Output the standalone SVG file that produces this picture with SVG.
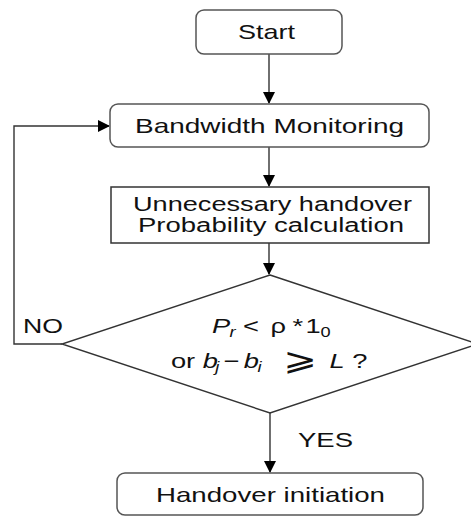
<svg xmlns="http://www.w3.org/2000/svg" width="471" height="516" viewBox="0 0 471 516">
<style>
.box{fill:#fff;stroke:#555;stroke-width:1.5}
.lbl{font-family:"Liberation Sans",Arial,sans-serif;font-size:21px;fill:#111}
.it{font-style:italic}
.sub{font-size:14px}
.ln{fill:none;stroke:#333;stroke-width:1.4}
</style>
<defs>
<marker id="ah" markerWidth="12" markerHeight="12" refX="11" refY="6" orient="auto" markerUnits="userSpaceOnUse">
<path d="M0,0 L12,6 L0,12 Z" fill="#000"/>
</marker>
</defs>
<g id="connectors">
<line class="ln" x1="269" y1="54" x2="269" y2="103" marker-end="url(#ah)"/>
<line class="ln" x1="269" y1="147" x2="269" y2="186" marker-end="url(#ah)"/>
<line class="ln" x1="269" y1="243" x2="269" y2="274" marker-end="url(#ah)"/>
<line class="ln" x1="270" y1="413" x2="270" y2="472" marker-end="url(#ah)"/>
<polyline class="ln" points="62,344 14,344 14,126 109,126" marker-end="url(#ah)"/>
<text class="lbl" x="23" y="333" textLength="40" lengthAdjust="spacingAndGlyphs">NO</text>
<text class="lbl" x="298" y="447" textLength="55" lengthAdjust="spacingAndGlyphs">YES</text>
</g>
<g id="start">
<rect class="box" x="196" y="10" width="146" height="44" rx="8"/>
<text class="lbl" x="238" y="39" textLength="57" lengthAdjust="spacingAndGlyphs">Start</text>
</g>
<g id="monitoring">
<rect class="box" x="110" y="104" width="319" height="43" rx="8"/>
<text class="lbl" x="135" y="133" textLength="269" lengthAdjust="spacingAndGlyphs">Bandwidth Monitoring</text>
</g>
<g id="calculation">
<rect x="111" y="187" width="318" height="56" fill="#fff" stroke="#333" stroke-width="1.5"/>
<text class="lbl" x="133" y="211" textLength="279" lengthAdjust="spacingAndGlyphs" style="font-size:20px">Unnecessary handover</text>
<text class="lbl" x="138" y="232" textLength="266" lengthAdjust="spacingAndGlyphs" style="font-size:20px">Probability calculation</text>
</g>
<g id="decision">
<polygon points="270,275 478,344 270,413 62,344" fill="#fff" stroke="#333" stroke-width="1.4"/>
<g transform="scale(1.3 1)">
<text class="lbl"><tspan class="it" x="163" y="333">P</tspan><tspan class="it sub" x="176.5" y="337">r</tspan><tspan x="187" y="333">&lt;</tspan><tspan x="208" y="333">ρ</tspan><tspan x="225" y="333">*</tspan><tspan x="235" y="333">1</tspan><tspan class="sub" x="246.5" y="337">0</tspan></text>
<text class="lbl"><tspan x="131.5" y="368">or</tspan><tspan class="it" x="156" y="368">b</tspan><tspan class="it sub" x="165.5" y="372">j</tspan><tspan x="172" y="368">−</tspan><tspan class="it" x="187.5" y="368">b</tspan><tspan class="it sub" x="198" y="372">i</tspan><tspan x="218" y="370" style="font-family:'DejaVu Sans',sans-serif;font-size:31px">⩾</tspan><tspan class="it" x="253.5" y="368">L</tspan><tspan x="271" y="368">?</tspan></text>
</g>
</g>
<g id="initiation">
<rect class="box" x="117" y="473" width="306" height="42" rx="8"/>
<text class="lbl" x="156" y="502" textLength="229" lengthAdjust="spacingAndGlyphs">Handover initiation</text>
</g>
</svg>
